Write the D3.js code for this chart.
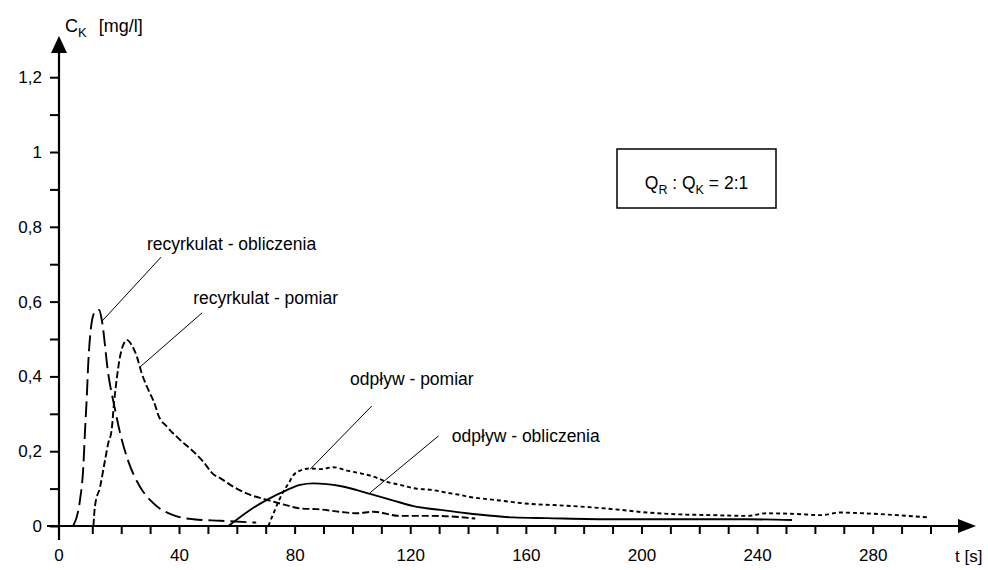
<!DOCTYPE html>
<html>
<head>
<meta charset="utf-8">
<script src="https://cdn.jsdelivr.net/npm/d3@7"></script>
<style>
  html, body { margin: 0; padding: 0; background: #fff; }
  svg { display: block; font-family: "Liberation Sans", Arial, sans-serif; }
</style>
</head>
<body>
<svg id="chart" width="988" height="570"></svg>
<script>
// Concentration C_K [mg/l] over time t [s]; pairs are [t, C]
const recyrkulatObliczenia = [
  [3.4, 0], [5.75, 0.07], [6.9, 0.159], [7.5, 0.257], [8.1, 0.346], [8.6, 0.435],
  [9.45, 0.524], [10.35, 0.564], [11.5, 0.576], [12.4, 0.578], [13.3, 0.55],
  [15.5, 0.408], [17.9, 0.31], [19.6, 0.249], [22.5, 0.172], [26.5, 0.105],
  [31.1, 0.061], [38, 0.029], [45, 0.018], [54.2, 0.014], [66.7, 0.009]
];
const recyrkulatPomiar = [
  [10.4, 0], [10.9, 0.052], [12.7, 0.105], [14.4, 0.176], [15.5, 0.221], [16.7, 0.257],
  [17.5, 0.328], [18.4, 0.39], [19.6, 0.453], [20.7, 0.484], [22.1, 0.497],
  [23.6, 0.484], [25.4, 0.453], [27.1, 0.408], [29.4, 0.364], [31.7, 0.324],
  [32.8, 0.297], [35.8, 0.266], [40.4, 0.23], [45, 0.199], [48.4, 0.172],
  [51.9, 0.138], [54.2, 0.128], [58.8, 0.105], [64, 0.085], [70.4, 0.07],
  [76, 0.058], [81.9, 0.047], [87.7, 0.045], [95.7, 0.038], [101.5, 0.034],
  [107.3, 0.038], [116.5, 0.027], [128, 0.027], [142.5, 0.02]
];
const odplywPomiar = [
  [70.9, 0], [72.7, 0.034], [74.4, 0.065], [76.1, 0.092], [77.9, 0.114], [79.6, 0.136],
  [81.9, 0.148], [85.4, 0.154], [88.8, 0.152], [93.4, 0.157], [98.1, 0.148],
  [102.7, 0.141], [107.3, 0.132], [111.9, 0.118], [116.5, 0.11], [121.1, 0.101],
  [128, 0.096], [132.7, 0.089], [137.3, 0.083], [141.9, 0.076], [146.5, 0.072],
  [151.1, 0.068], [161.5, 0.059], [169.5, 0.056], [178.8, 0.052], [190.3, 0.045],
  [201.9, 0.036], [213.4, 0.031], [224.9, 0.029], [236.5, 0.027], [243.4, 0.034],
  [253.8, 0.032], [261.9, 0.029], [268.8, 0.036], [276.8, 0.034], [288.4, 0.029],
  [299.4, 0.023]
];
const odplywObliczenia = [
  [57.1, 0], [64.6, 0.043], [70.4, 0.07], [77.3, 0.096], [81.9, 0.11], [86.5, 0.114],
  [91.1, 0.112], [95.7, 0.107], [101.5, 0.096], [107.3, 0.083], [114.2, 0.068],
  [121.1, 0.053], [130.4, 0.043], [139.6, 0.034], [147, 0.028], [155.7, 0.023],
  [167.3, 0.021], [190.3, 0.018], [213.4, 0.018], [236.5, 0.018], [252.1, 0.016]
];

// Axis ticks and labels
const xTicks = d3.range(0, 301, 10);
const xLabelled = [0, 40, 80, 120, 160, 200, 240, 280];
const yTicks = d3.range(0, 13).map(i => i / 10);
const yLabelled = [0, 0.2, 0.4, 0.6, 0.8, 1, 1.2];

// Curve callouts: label anchor [t, C], leader from [t, C] to a point on the curve
const callouts = [
  { text: "recyrkulat - obliczenia", at: [28.9, 0.738], from: [33.8, 0.719], to: [13.4, 0.548] },
  { text: "recyrkulat - pomiar", at: [44.9, 0.593], from: [48, 0.57], to: [26.5, 0.425] },
  { text: "odpływ - pomiar", at: [99.2, 0.377], from: [106.7, 0.321], to: [85.4, 0.152] },
  { text: "odpływ - obliczenia", at: [134.4, 0.225], from: [129.8, 0.241], to: [106.1, 0.089] }
];

const svg = d3.select("#chart");
const x = d3.scaleLinear().domain([0, 300]).range([63.4, 930.5]);
const y = d3.scaleLinear().domain([0, 1.2]).range([526, 77.2]);
const axisX = x(0) - 4.4;   // vertical axis line sits just left of t = 0
const fontSize = 17;
const fmtY = d => d3.format("~g")(d).replace(".", ",");

// Horizontal axis
const gx = svg.append("g").attr("transform", `translate(0,${y(0)})`)
  .call(d3.axisBottom(x).tickValues(xTicks).tickSize(8).tickPadding(16)
    .tickFormat(d => xLabelled.includes(d) ? d : ""));
gx.select(".domain").remove();
gx.selectAll(".tick line").attr("stroke", "#000").attr("stroke-width", 2);
gx.selectAll(".tick").filter(d => d === 0).select("line").remove();
gx.selectAll(".tick").filter(d => d === 0).select("text").attr("x", -5);
gx.selectAll(".tick text").attr("font-size", fontSize).attr("font-family", "Liberation Sans, Arial, sans-serif")
  .attr("fill", "#000").attr("dy", "0.71em").attr("y", 23);

// Vertical axis
const gy = svg.append("g").attr("transform", `translate(${axisX},0)`)
  .call(d3.axisLeft(y).tickValues(yTicks).tickSize(9).tickPadding(8)
    .tickFormat(d => yLabelled.some(v => Math.abs(v - d) < 1e-9) ? fmtY(d) : ""));
gy.select(".domain").remove();
gy.selectAll(".tick line").attr("stroke", "#000").attr("stroke-width", 2);
gy.selectAll(".tick text").attr("font-size", fontSize).attr("font-family", "Liberation Sans, Arial, sans-serif")
  .attr("fill", "#000");

// Axis lines with arrow heads
svg.append("line").attr("x1", axisX - 12).attr("x2", 962).attr("y1", y(0)).attr("y2", y(0))
  .attr("stroke", "#000").attr("stroke-width", 2.2);
svg.append("path").attr("d", `M958,${y(0) - 7}L976,${y(0)}L958,${y(0) + 7}Z`).attr("fill", "#000");
svg.append("line").attr("x1", axisX).attr("x2", axisX).attr("y1", y(0) + 14).attr("y2", 50)
  .attr("stroke", "#000").attr("stroke-width", 2.2);
svg.append("path").attr("d", `M${axisX - 8},53L${axisX},36L${axisX + 8},53Z`).attr("fill", "#000");

// Axis titles
const yTitle = svg.append("text").attr("x", 65).attr("y", 32).attr("font-size", 18).attr("fill", "#000");
yTitle.append("tspan").text("C");
yTitle.append("tspan").attr("font-size", 13).attr("dy", 5).text("K");
yTitle.append("tspan").attr("dy", -5).attr("dx", 12).text("[mg/l]");
svg.append("text").attr("x", 955).attr("y", 562).attr("font-size", fontSize).attr("fill", "#000").text("t [s]");

// Series
const line = d3.line().x(d => x(d[0])).y(d => y(d[1])).curve(d3.curveMonotoneX);
const series = [
  { data: recyrkulatObliczenia, dash: "16,6" },
  { data: recyrkulatPomiar, dash: "7,3" },
  { data: odplywPomiar, dash: "4,3" },
  { data: odplywObliczenia, dash: null }
];
svg.append("g").selectAll("path").data(series).join("path")
  .attr("d", s => line(s.data))
  .attr("fill", "none").attr("stroke", "#000").attr("stroke-width", 1.9)
  .attr("stroke-dasharray", s => s.dash);

// Callouts
const gc = svg.append("g");
gc.selectAll("line").data(callouts).join("line")
  .attr("x1", c => x(c.from[0])).attr("y1", c => y(c.from[1]))
  .attr("x2", c => x(c.to[0])).attr("y2", c => y(c.to[1]))
  .attr("stroke", "#000").attr("stroke-width", 1);
gc.selectAll("text").data(callouts).join("text")
  .attr("x", c => x(c.at[0])).attr("y", c => y(c.at[1]))
  .attr("font-size", 17.5).attr("fill", "#000").text(c => c.text);

// Flow ratio box
svg.append("rect").attr("x", 617).attr("y", 149).attr("width", 159).attr("height", 59)
  .attr("fill", "#fff").attr("stroke", "#000").attr("stroke-width", 1.5);
const q = svg.append("text").attr("x", 696.5).attr("y", 189).attr("text-anchor", "middle")
  .attr("font-size", 17.5).attr("fill", "#000");
q.append("tspan").text("Q");
q.append("tspan").attr("font-size", 12.5).attr("dy", 5).text("R");
q.append("tspan").attr("dy", -5).text(" : Q");
q.append("tspan").attr("font-size", 12.5).attr("dy", 5).text("K");
q.append("tspan").attr("dy", -5).text(" = 2:1");
</script>
</body>
</html>
